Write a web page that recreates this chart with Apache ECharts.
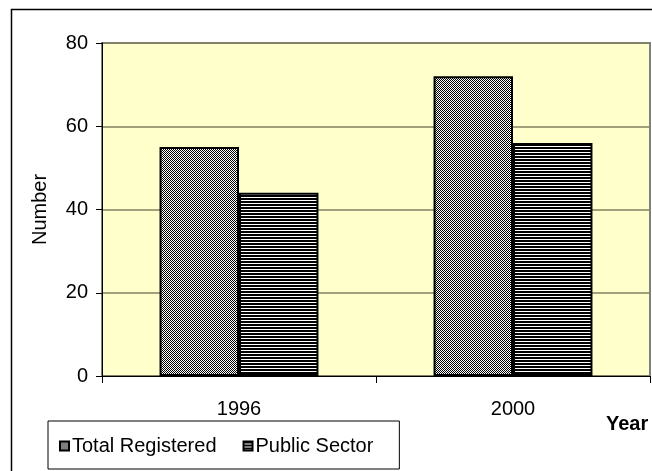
<!DOCTYPE html>
<html>
<head>
<meta charset="utf-8">
<script src="https://cdn.jsdelivr.net/npm/echarts@6/dist/echarts.min.js"></script>
<style>
html,body{margin:0;padding:0;background:#fff;}
#c{width:652px;height:471px;}
</style>
</head>
<body>
<div id="c"></div>
<script>
var categories = ['1996', '2000'];
var totalRegistered = [55, 72];
var publicSector = [44, 56];
var yTicks = [0, 20, 40, 60, 80];
var seriesNames = ['Total Registered', 'Public Sector'];
var yAxisTitle = 'Number';
var xAxisTitle = 'Year';

function checkerPattern() {
  var c = document.createElement('canvas');
  c.width = 2; c.height = 2;
  var g = c.getContext('2d');
  g.fillStyle = '#ffffff'; g.fillRect(0, 0, 2, 2);
  g.fillStyle = '#000000';
  g.fillRect(0, 0, 1, 1); g.fillRect(1, 1, 1, 1);
  return { image: c, repeat: 'repeat' };
}
function stripePattern() {
  var c = document.createElement('canvas');
  c.width = 4; c.height = 3;
  var g = c.getContext('2d');
  g.fillStyle = '#000000'; g.fillRect(0, 0, 4, 3);
  g.fillStyle = '#ffffff'; g.fillRect(0, 2, 4, 1);
  return { image: c, repeat: 'repeat' };
}

var font = '"Liberation Sans", Arial, sans-serif';
var chart = echarts.init(document.getElementById('c'), null, { renderer: 'canvas' });
chart.setOption({
  animation: false,
  backgroundColor: '#ffffff',
  textStyle: { fontFamily: font },
  graphic: [
    { type: 'rect', z: -10, shape: { x: 11.5, y: 9.5, width: 700, height: 500 },
      style: { fill: 'none', stroke: '#000', lineWidth: 1.5 } },
    { type: 'text', left: 606, top: 414,
      style: { text: xAxisTitle, font: 'bold 20px ' + font, fill: '#000' } }
  ],
  grid: {
    left: 102, top: 43, width: 548, bottom: 95,
    show: true, backgroundColor: '#FFFFCC', borderColor: '#808080', borderWidth: 2
  },
  legend: {
    left: 48, top: 421,
    padding: [15, 26, 13, 11],
    itemGap: 26,
    itemWidth: 9, itemHeight: 9,
    icon: 'rect',
    borderColor: '#000', borderWidth: 1,
    backgroundColor: '#fff',
    textStyle: { fontSize: 20, color: '#000', fontFamily: font, padding: [0, 0, 0, -2] },
    data: seriesNames
  },
  xAxis: {
    type: 'category',
    data: categories,
    axisLine: { lineStyle: { color: '#000', width: 1 } },
    axisTick: { show: true, length: 7, lineStyle: { color: '#000' } },
    axisLabel: { fontSize: 20, color: '#000', margin: 23, fontFamily: font },
    splitLine: { show: false }
  },
  yAxis: {
    type: 'value',
    min: yTicks[0], max: yTicks[yTicks.length - 1], interval: 20,
    name: yAxisTitle, nameLocation: 'middle', nameRotate: 90, nameGap: 52,
    nameTextStyle: { fontSize: 20, color: '#000', fontFamily: font },
    axisLine: { show: true, lineStyle: { color: '#000', width: 1 } },
    axisTick: { show: true, length: 6, lineStyle: { color: '#000' } },
    axisLabel: { fontSize: 20, color: '#000', margin: 14, fontFamily: font },
    splitLine: { show: true, lineStyle: { color: '#808060', width: 1.5 } }
  },
  series: [
    {
      name: seriesNames[0], type: 'bar', data: totalRegistered,
      barGap: '0%', barCategoryGap: '42%',
      itemStyle: { color: checkerPattern(), borderColor: '#000', borderWidth: 2 }
    },
    {
      name: seriesNames[1], type: 'bar', data: publicSector,
      itemStyle: { color: stripePattern(), borderColor: '#000', borderWidth: 2 }
    }
  ]
});
</script>
</body>
</html>
